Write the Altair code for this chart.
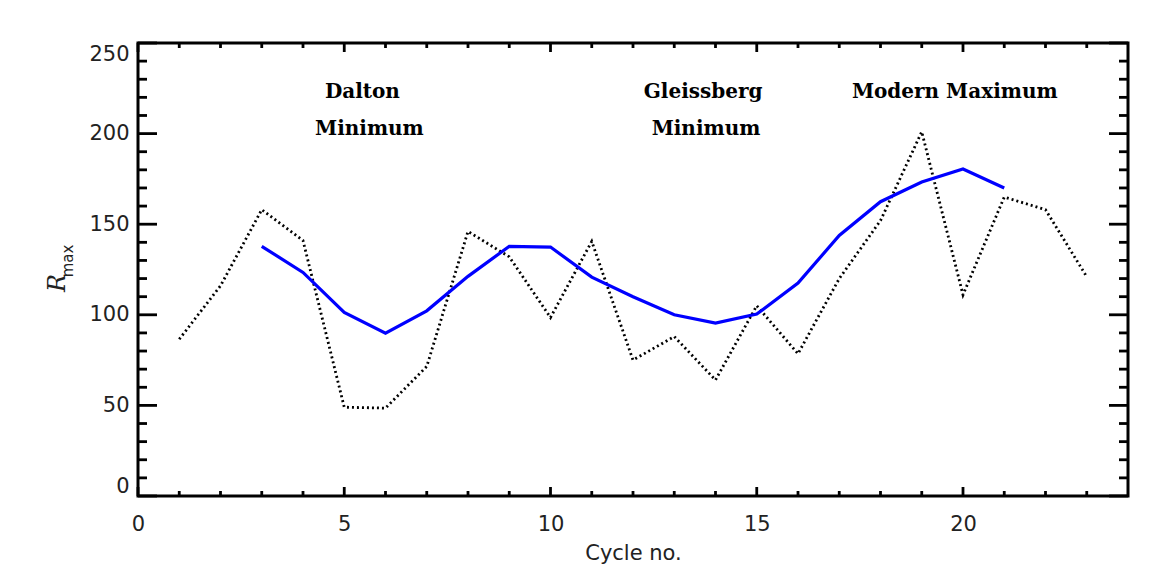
import altair as alt
import pandas as pd

# ---- data ----
cycles = [1, 2, 3, 4, 5, 6, 7, 8, 9, 10, 11, 12, 13, 14, 15, 16, 17, 18, 19, 20, 21, 22, 23]
r_max = [86.5, 116, 158, 141, 49, 48.5, 71.5, 146, 132, 98.5, 140.5, 75, 88, 64, 105,
         78.5, 120, 152, 201, 111, 165, 158, 121]

smooth_cycles = [3, 4, 5, 6, 7, 8, 9, 10, 11, 12, 13, 14, 15, 16, 17, 18, 19, 20, 21]
r_smooth = [137.8, 123.4, 101.3, 89.9, 102.2, 121.2, 137.8, 137.4, 120.8, 110, 100,
            95.4, 100.4, 117.5, 143.8, 162.4, 173.3, 180.5, 170]

ann_labels = ["Dalton", "Minimum", "Gleissberg", "Minimum", "Modern Maximum"]
ann_x = [5.44, 5.61, 13.70, 13.77, 19.8]
ann_y = [219.5, 199.2, 219.5, 199.2, 219.5]

x_major = [0, 5, 10, 15, 20]
x_minor = [1, 2, 3, 4, 6, 7, 8, 9, 11, 12, 13, 14, 16, 17, 18, 19, 21, 22, 23]
y_major = [0, 50, 100, 150, 200, 250]
y_minor = [10, 20, 30, 40, 60, 70, 80, 90, 110, 120, 130, 140, 160, 170, 180, 190,
           210, 220, 230, 240]

W, H = 990, 453

xscale = alt.Scale(domain=[0, 24], nice=False, zero=False)
yscale = alt.Scale(domain=[0, 250], nice=False)

xaxis = alt.Axis(values=x_major, ticks=False, domain=False, grid=False, labelFlush=False,
                 labelFontSize=21, labelFont="DejaVu Sans", labelColor="#222",
                 labelPadding=17, title="Cycle no.", titleFontSize=21,
                 titleFont="DejaVu Sans", titleFontWeight="normal", titleColor="#222",
                 titlePadding=8)
yaxis = alt.Axis(values=y_major, ticks=False, domain=False, grid=False,
                 labelFontSize=21, labelFont="DejaVu Sans", labelColor="#222",
                 labelPadding=9, labelFlush=True, title=None)


def X(field="cycle"):
    return alt.X(f"{field}:Q", scale=xscale, axis=xaxis)


def Y(field="r"):
    return alt.Y(f"{field}:Q", scale=yscale, axis=yaxis)


df_obs = pd.DataFrame({"cycle": cycles, "r": r_max})
df_sm = pd.DataFrame({"cycle": smooth_cycles, "r": r_smooth})
df_ann = pd.DataFrame({"cycle": ann_x, "r": ann_y, "label": ann_labels})

obs = alt.Chart(df_obs).mark_line(color="black", strokeWidth=2.8, strokeDash=[2, 3]).encode(
    x=X(), y=Y())
sm = alt.Chart(df_sm).mark_line(color="#0000ff", strokeWidth=3.2).encode(x=X(), y=Y())

ann = alt.Chart(df_ann).mark_text(font="DejaVu Serif", fontWeight="bold", fontSize=20,
                                  align="center", baseline="alphabetic", color="black").encode(
    x=X(), y=Y(), text="label:N")

# inward ticks on all four sides
dfy_maj = pd.DataFrame({"r": y_major})
dfy_min = pd.DataFrame({"r": y_minor})
dfx_maj = pd.DataFrame({"cycle": x_major})
dfx_min = pd.DataFrame({"cycle": x_minor})

tick_style = dict(color="black", strokeWidth=2.8)
ticks = [
    alt.Chart(dfy_maj).mark_rule(**tick_style).encode(y=Y(), x=alt.value(0), x2=alt.value(19)),
    alt.Chart(dfy_min).mark_rule(**tick_style).encode(y=Y(), x=alt.value(0), x2=alt.value(9)),
    alt.Chart(dfy_maj).mark_rule(**tick_style).encode(y=Y(), x=alt.value(W), x2=alt.value(W - 19)),
    alt.Chart(dfy_min).mark_rule(**tick_style).encode(y=Y(), x=alt.value(W), x2=alt.value(W - 9)),
    alt.Chart(dfx_maj).mark_rule(**tick_style).encode(x=X(), y=alt.value(H), y2=alt.value(H - 9)),
    alt.Chart(dfx_min).mark_rule(**tick_style).encode(x=X(), y=alt.value(H), y2=alt.value(H - 5)),
    alt.Chart(dfx_maj).mark_rule(**tick_style).encode(x=X(), y=alt.value(0), y2=alt.value(9)),
    alt.Chart(dfx_min).mark_rule(**tick_style).encode(x=X(), y=alt.value(0), y2=alt.value(5)),
]

# y-axis title R_max (italic R with subscript)
ttl_R = alt.Chart(pd.DataFrame({"t": ["R"]})).mark_text(
    font="DejaVu Serif", fontStyle="italic", fontSize=24, angle=270, align="center",
    baseline="middle", color="#222").encode(x=alt.value(-80), y=alt.value(240), text="t:N")
ttl_sub = alt.Chart(pd.DataFrame({"t": ["max"]})).mark_text(
    font="DejaVu Sans", fontSize=15, angle=270, align="center",
    baseline="middle", color="#222").encode(x=alt.value(-70), y=alt.value(218), text="t:N")

chart = alt.layer(*ticks, obs, sm, ann, ttl_R, ttl_sub).properties(
    width=W, height=H,
    background="white",
    autosize=alt.AutoSizeParams(type="none"),
    padding={"left": 130, "top": 35, "right": 30, "bottom": 80},
).configure_view(stroke="black", strokeWidth=3)

chart.save("out.html", embed_options={"renderer": "svg", "actions": False})
